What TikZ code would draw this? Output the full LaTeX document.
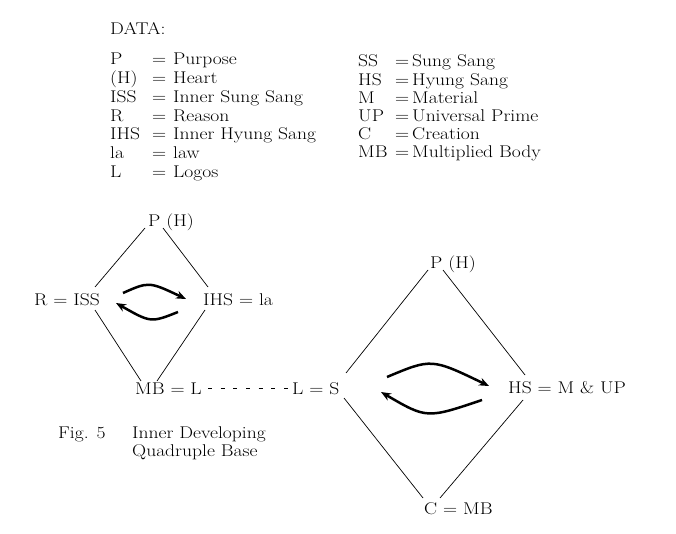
\documentclass[tikz,border=0pt]{standalone}
\usepackage{fontspec}
\setmainfont{Latin Modern Roman}[FakeStretch=1.15]
\usetikzlibrary{arrows.meta}
\begin{document}
\begin{tikzpicture}[x=1pt,y=-1pt,
  txt/.style={anchor=base west,inner sep=0pt,font=\fontsize{17pt}{20pt}\selectfont},
  edge/.style={line width=0.7pt},
  dots/.style={line width=0.8pt,dash pattern=on 4pt off 8.67pt},
  turn/.style={line width=2.5pt,-{Stealth[length=10pt,width=8pt]}}]
\useasboundingbox (0,0) rectangle (676,534);
% legend
\node[txt] (data) at (110,35) {DATA:};
\node[txt] (k1) at (110,65) {P};     \node[txt] (e1) at (152,65) {=};     \node[txt] (v1) at (173,65) {Purpose};
\node[txt] (k2) at (110,83.7) {(H)}; \node[txt] (e2) at (152,83.7) {=};   \node[txt] (v2) at (173,83.7) {Heart};
\node[txt] (k3) at (110,102.4) {ISS};\node[txt] (e3) at (152,102.4) {=};  \node[txt] (v3) at (173,102.4) {Inner Sung Sang};
\node[txt] (k4) at (110,121.1) {R};  \node[txt] (e4) at (152,121.1) {=};  \node[txt] (v4) at (173,121.1) {Reason};
\node[txt] (k5) at (110,139.8) {IHS};\node[txt] (e5) at (152,139.8) {=};  \node[txt] (v5) at (173,139.8) {Inner Hyung Sang};
\node[txt] (k6) at (110,158.5) {la}; \node[txt] (e6) at (152,158.5) {=};  \node[txt] (v6) at (173,158.5) {law};
\node[txt] (k7) at (110,177.2) {L};  \node[txt] (e7) at (152,177.2) {=};  \node[txt] (v7) at (173,177.2) {Logos};
\node[txt] (r1) at (358,67) {SS};    \node[txt] (f1) at (395,67) {=};     \node[txt] (w1) at (412,67) {Sung Sang};
\node[txt] (r2) at (358,85.2) {HS};  \node[txt] (f2) at (395,85.2) {=};   \node[txt] (w2) at (412,85.2) {Hyung Sang};
\node[txt] (r3) at (358,103.4) {M};  \node[txt] (f3) at (395,103.4) {=};  \node[txt] (w3) at (412,103.4) {Material};
\node[txt] (r4) at (358,121.6) {UP}; \node[txt] (f4) at (395,121.6) {=};  \node[txt] (w4) at (412,121.6) {Universal Prime};
\node[txt] (r5) at (358,139.8) {C};  \node[txt] (f5) at (395,139.8) {=};  \node[txt] (w5) at (412,139.8) {Creation};
\node[txt] (r6) at (358,158) {MB};   \node[txt] (f6) at (395,158) {=};    \node[txt] (w6) at (412,158) {Multiplied Body};
% small diamond
\node[txt] (lt) at (148,227) {P (H)};
\node[txt] (ll) at (34,305) {R = ISS};
\node[txt] (lr) at (203,305) {IHS = la};
\node[txt] (lb) at (135,394) {MB = L};
\coordinate (lt1) at (145,228); \coordinate (ll1) at (95,287);
\coordinate (lt2) at (163,228); \coordinate (lr1) at (208,287);
\coordinate (ll2) at (95,310);  \coordinate (lb1) at (141,381);
\coordinate (lr2) at (205,310); \coordinate (lb2) at (157,381);
\draw[edge] (lt1) -- (ll1);
\draw[edge] (lt2) -- (lr1);
\draw[edge] (ll2) -- (lb1);
\draw[edge] (lr2) -- (lb2);
\coordinate (la1) at (123,293); \coordinate (la2) at (186,299);
\coordinate (la3) at (178,312); \coordinate (la4) at (116,303);
\draw[turn] (la1) .. controls (149,281.5) .. (la2);
\draw[turn] (la3) .. controls (150.8,322.8) .. (la4);
% dashed link
\node[txt] (bl) at (292,394) {L = S};
\coordinate (d1) at (208,388); \coordinate (d2) at (288,388);
\draw[dots] (d1) -- (d2);
% big diamond
\node[txt] (bt) at (430,269) {P (H)};
\node[txt] (br) at (508,393) {HS = M \& UP};
\node[txt] (bb) at (424,514) {C = MB};
\coordinate (bt1) at (428,270); \coordinate (bl1) at (346,373);
\coordinate (bt2) at (443,270); \coordinate (br1) at (525,375);
\coordinate (bl2) at (344,398); \coordinate (bb1) at (423,498);
\coordinate (br2) at (523,400); \coordinate (bb2) at (440,498);
\draw[edge] (bt1) -- (bl1);
\draw[edge] (bt2) -- (br1);
\draw[edge] (bl2) -- (bb1);
\draw[edge] (br2) -- (bb2);
\coordinate (ba1) at (387,377); \coordinate (ba2) at (489,386);
\coordinate (ba3) at (482,400); \coordinate (ba4) at (381,392);
\draw[turn] (ba1) .. controls (431.5,358.3) .. (ba2);
\draw[turn] (ba3) .. controls (426.7,418.7) .. (ba4);
% caption
\node[txt] (fig) at (58,438) {Fig. 5};
\node[txt] (cap1) at (132,438) {Inner Developing};
\node[txt] (cap2) at (132,456) {Quadruple Base};
\end{tikzpicture}
\end{document}
